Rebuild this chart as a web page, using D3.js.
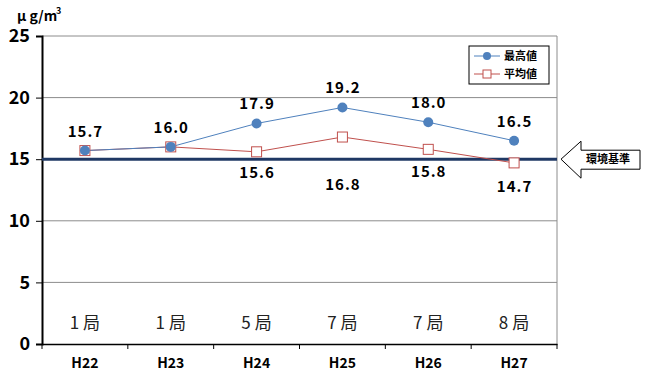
<!DOCTYPE html>
<html>
<head>
  <meta charset="utf-8">
  <script src="https://d3js.org/d3.v7.min.js"></script>
  <style>
    body { margin: 0; background: #fff; }
    text { font-family: "Noto Sans CJK JP", "DejaVu Sans", sans-serif; }
    .num { font-weight: bold; }
  </style>
</head>
<body>
  <svg id="chart" width="648" height="371"></svg>

  <script>
    // data
    const years = ["H22", "H23", "H24", "H25", "H26", "H27"];
    const stations = ["1局", "1局", "5局", "7局", "7局", "8局"];
    const maxValues = [15.7, 16.0, 17.9, 19.2, 18.0, 16.5];
    const avgValues = [15.7, 16.0, 15.6, 16.8, 15.8, 14.7];
    const yTicks = [0, 5, 10, 15, 20, 25];
    const standard = 15;

    // label placement for the avg series (px below its point), first two hidden
    const avgLabelDy = [null, null, 21, 48, 23, 24];

    const svg = d3.select("#chart");
    const plotL = 42, plotR = 557, plotT = 36, plotB = 344;

    const x = d3.scaleBand().domain(years).range([plotL, plotR]);
    const y = d3.scaleLinear().domain([0, 25]).range([plotB, plotT]);
    const cx = d => x(d) + x.bandwidth() / 2;

    // gridlines
    svg.append("g")
      .selectAll("line")
      .data(yTicks.filter(t => t > 0 && t !== standard))
      .enter().append("line")
      .attr("x1", plotL).attr("x2", plotR)
      .attr("y1", d => y(d)).attr("y2", d => y(d))
      .attr("stroke", "#8c8c8c").attr("stroke-width", 1);

    // right border
    svg.append("line")
      .attr("x1", plotR).attr("x2", plotR).attr("y1", plotT).attr("y2", plotB)
      .attr("stroke", "#8c8c8c");

    // y axis
    const yAxis = svg.append("g")
      .attr("transform", `translate(${plotL},0)`)
      .call(d3.axisLeft(y).tickValues(yTicks).tickSize(6).tickPadding(6));
    yAxis.select(".domain").attr("stroke", "#000").attr("stroke-width", 2);
    yAxis.selectAll(".tick line").attr("stroke", "#000");
    yAxis.selectAll("text")
      .attr("class", "num")
      .style("font-size", "18px")
      .attr("fill", "#000");

    // x axis
    const xAxis = svg.append("g")
      .attr("transform", `translate(0,${plotB})`)
      .call(d3.axisBottom(x).tickSize(0).tickPadding(14));
    xAxis.select(".domain").attr("stroke", "#000").attr("stroke-width", 1.5);
    xAxis.selectAll("text")
      .attr("class", "num")
      .style("font-size", "14px")
      .attr("fill", "#000");
    // boundary ticks
    svg.append("g")
      .selectAll("line")
      .data(d3.range(years.length + 1))
      .enter().append("line")
      .attr("x1", i => plotL + i * x.bandwidth())
      .attr("x2", i => plotL + i * x.bandwidth())
      .attr("y1", plotB).attr("y2", plotB + 5)
      .attr("stroke", "#000");

    // unit label
    svg.append("text")
      .attr("x", 17).attr("y", 21)
      .attr("class", "num")
      .style("font-size", "14px")
      .text("μ g/m");
    svg.append("text")
      .attr("x", 56).attr("y", 14)
      .attr("class", "num")
      .style("font-size", "9px")
      .text("3");

    // station labels
    svg.append("g")
      .selectAll("text")
      .data(years)
      .enter().append("text")
      .attr("x", d => cx(d) + 2)
      .attr("y", 329)
      .attr("text-anchor", "middle")
      .style("font-size", "17px")
      .style("letter-spacing", "4px")
      .attr("fill", "#222")
      .text((d, i) => stations[i]);

    // environmental standard line
    svg.append("line")
      .attr("x1", plotL).attr("x2", plotR)
      .attr("y1", y(standard)).attr("y2", y(standard))
      .attr("stroke", "#1f3864").attr("stroke-width", 3);

    // series
    const line = d3.line().x((d, i) => cx(years[i])).y(d => y(d));
    svg.append("path").datum(avgValues)
      .attr("d", line).attr("fill", "none")
      .attr("stroke", "#C0504D").attr("stroke-width", 1);
    svg.append("path").datum(maxValues)
      .attr("d", line).attr("fill", "none")
      .attr("stroke", "#4F81BD").attr("stroke-width", 1);

    svg.append("g")
      .selectAll("rect")
      .data(avgValues)
      .enter().append("rect")
      .attr("x", (d, i) => cx(years[i]) - 5)
      .attr("y", d => y(d) - 5)
      .attr("width", 10).attr("height", 10)
      .attr("fill", "#fff").attr("stroke", "#C0504D");
    svg.append("g")
      .selectAll("circle")
      .data(maxValues)
      .enter().append("circle")
      .attr("cx", (d, i) => cx(years[i]))
      .attr("cy", d => y(d))
      .attr("r", 5)
      .attr("fill", "#4F81BD");

    // data labels
    svg.append("g")
      .selectAll("text")
      .data(maxValues)
      .enter().append("text")
      .attr("class", "num")
      .attr("x", (d, i) => cx(years[i]) + 0.5)
      .attr("y", d => y(d) - 14)
      .attr("text-anchor", "middle")
      .style("font-size", "15px")
      .style("letter-spacing", "1px")
      .text(d => d.toFixed(1));
    svg.append("g")
      .selectAll("text")
      .data(avgValues.map((v, i) => ({ v, i })).filter(d => avgLabelDy[d.i] !== null))
      .enter().append("text")
      .attr("class", "num")
      .attr("x", d => cx(years[d.i]) + 0.5)
      .attr("y", d => y(d.v) + avgLabelDy[d.i] + 5)
      .attr("text-anchor", "middle")
      .style("font-size", "15px")
      .style("letter-spacing", "1px")
      .text(d => d.v.toFixed(1));

    // legend
    const lg = svg.append("g").attr("transform", "translate(469,46)");
    lg.append("rect").attr("width", 80).attr("height", 38)
      .attr("fill", "#fff").attr("stroke", "#000");
    const entries = [
      { name: "最高値", color: "#4F81BD", shape: "circle" },
      { name: "平均値", color: "#C0504D", shape: "square" }
    ];
    entries.forEach((e, i) => {
      const yy = 10 + i * 18;
      lg.append("line").attr("x1", 5).attr("x2", 31).attr("y1", yy).attr("y2", yy)
        .attr("stroke", e.color);
      if (e.shape === "circle") {
        lg.append("circle").attr("cx", 18).attr("cy", yy).attr("r", 4).attr("fill", e.color);
      } else {
        lg.append("rect").attr("x", 14).attr("y", yy - 4).attr("width", 8).attr("height", 8)
          .attr("fill", "#fff").attr("stroke", e.color);
      }
      lg.append("text").attr("x", 35).attr("y", yy + 4)
        .attr("class", "num").style("font-size", "11px").text(e.name);
    });

    // callout arrow
    const ay = y(standard);
    const arrow = [[561, ay], [581, ay - 18], [581, ay - 9], [640, ay - 9],
                   [640, ay + 10], [581, ay + 10], [581, ay + 19]];
    svg.append("path")
      .attr("d", d3.line()(arrow) + "Z")
      .attr("fill", "#fff").attr("stroke", "#000");
    svg.append("text")
      .attr("x", 608).attr("y", ay + 4)
      .attr("text-anchor", "middle")
      .attr("class", "num")
      .style("font-size", "11px")
      .text("環境基準");
  </script>
</body>
</html>
